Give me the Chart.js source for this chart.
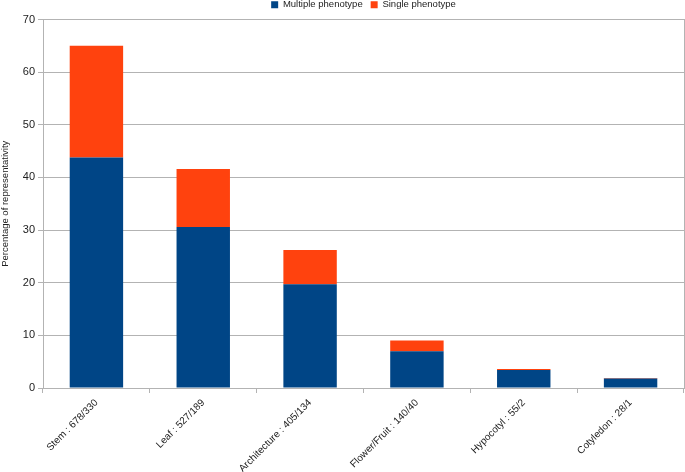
<!DOCTYPE html>
<html>
<head>
<meta charset="utf-8">
<script src="https://cdn.jsdelivr.net/npm/chart.js@4.4.0/dist/chart.umd.min.js"></script>
<style>
  html, body { margin: 0; padding: 0; background: white; }
  #wrap { width: 685px; height: 472px; }
</style>
</head>
<body>
<div id="wrap"><canvas id="myChart" width="685" height="472"></canvas></div>
<script>
var categories = ["Stem : 678/330", "Leaf : 527/189", "Architecture : 405/134", "Flower/Fruit : 140/40", "Hypocotyl : 55/2", "Cotyledon : 28/1"];
var multiple = [43.8, 30.6, 19.7, 7.0, 3.4, 1.8];
var single = [21.2, 11.0, 6.5, 2.0, 0.2, 0.1];
var yTicks = [0, 10, 20, 30, 40, 50, 60, 70];

Chart.defaults.font.family = "'Liberation Sans', Arial, sans-serif";
Chart.defaults.font.size = 11;
Chart.defaults.color = '#222';

// centre the legend over the plot area rather than the whole canvas
var legendOverArea = {
    id: 'legendOverArea',
    afterLayout: function (chart) {
        if (chart.legend) {
            chart.legend.left = chart.chartArea.left;
            chart.legend.right = chart.chartArea.right;
            chart.legend.width = chart.chartArea.right - chart.chartArea.left;
        }
    }
};

var ctx = document.getElementById('myChart');
var chart = new Chart(ctx, {
    type: 'bar',
    data: {
        labels: categories,
        datasets: [
            {
                label: 'Multiple phenotype',
                data: multiple,
                backgroundColor: '#004586',
                categoryPercentage: 1.0,
                barPercentage: 0.5
            },
            {
                label: 'Single phenotype',
                data: single,
                backgroundColor: '#ff420e',
                categoryPercentage: 1.0,
                barPercentage: 0.5
            }
        ]
    },
    plugins: [legendOverArea],
    options: {
        responsive: false,
        animation: false,
        layout: { padding: { left: 0, right: 1, top: -8, bottom: 0 } },
        scales: {
            x: {
                stacked: true,
                afterFit: function (axis) { axis.height = 84; },
                grid: { offset: true, drawOnChartArea: false, drawTicks: true, tickLength: 5, color: '#b3b3b3' },
                border: { color: '#b3b3b3' },
                ticks: { maxRotation: 45, minRotation: 45, padding: 4, color: '#222', font: { size: 10 } }
            },
            y: {
                stacked: true,
                min: 0,
                max: 70,
                afterBuildTicks: function (axis) { axis.ticks = yTicks.map(function (v) { return { value: v }; }); },
                afterFit: function (axis) { axis.width = 43; },
                grid: { color: '#b3b3b3', tickLength: 5 },
                border: { color: '#b3b3b3' },
                ticks: { padding: 3, color: '#222' },
                title: { display: true, text: 'Percentage of representativity', font: { size: 9.5 }, padding: { top: 0, bottom: 2 } }
            },
            y2: {
                position: 'right',
                min: 0,
                max: 70,
                ticks: { display: false },
                grid: { drawOnChartArea: false, drawTicks: false },
                border: { color: '#b3b3b3' }
            }
        },
        plugins: {
            legend: {
                position: 'top',
                labels: { boxWidth: 7, boxHeight: 7, padding: 8, font: { size: 9.5, lineHeight: 1.0 }, color: '#222' }
            },
            tooltip: { enabled: false }
        }
    }
});
</script>
</body>
</html>
